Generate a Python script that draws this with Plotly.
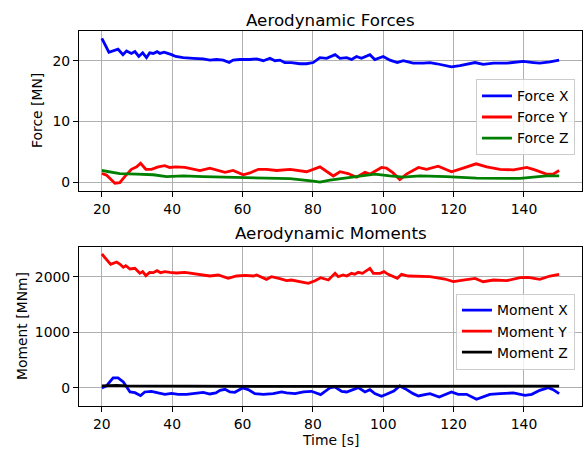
import plotly.graph_objects as go

# ---- Force data [MN] vs time [s] ----
t_fx = [20, 22, 24.6, 26, 27, 28.4, 29.4, 30.5, 31.6, 32.7, 33.6, 34.6, 35.7, 36.5, 37.7,
        38.9, 39.8, 41, 43.1, 46, 48.8, 50.7, 52.6, 54.5, 56.2, 57.3, 59.2, 62, 64, 65.9,
        67.8, 69.2, 70.6, 72, 73.9, 76.3, 78.2, 80.1, 82, 83.9, 86.3, 87.7, 89.6, 91, 92.4,
        93.8, 96.2, 97.6, 100, 101.9, 104, 105.7, 108.5, 111.4, 113.3, 115.2, 119.4, 121.8,
        126.1, 128.4, 131.3, 135.1, 139.8, 142.7, 144.5, 147.4, 150]
force_x = [23.7, 21.4, 21.9, 21.0, 21.6, 21.2, 21.5, 20.7, 21.3, 20.5, 21.3, 21.2, 21.5, 21.2, 21.4,
           21.2, 21.0, 20.7, 20.5, 20.4, 20.3, 20.1, 20.2, 20.1, 19.7, 20.1, 20.2, 20.2, 20.3, 20.0,
           20.4, 20.0, 20.1, 19.7, 19.7, 19.5, 19.5, 19.7, 20.5, 20.4, 21.0, 20.4, 20.5, 20.2, 20.7,
           20.4, 21.0, 20.2, 20.7, 20.1, 19.7, 20.0, 19.6, 19.6, 19.7, 19.5, 19.0, 19.2,
           19.7, 19.4, 19.6, 19.6, 19.9, 19.7, 19.6, 19.8, 20.1]

t_fy = [20, 21.3, 23.7, 25.1, 26.5, 28.4, 29.9, 31, 32.5, 34.1, 36, 37.9, 39.3, 41, 43.6,
        46, 47.9, 50.7, 53.1, 55, 57.3, 60.2, 62.1, 64.5, 66.8, 69.7, 73.5, 76.3, 78.2, 82,
        83.4, 85.8, 87.7, 90, 92.4, 94.8, 96.2, 99.5, 100.9, 102.8, 104.7, 106.6, 110, 112.3,
        115.6, 119.4, 122.7, 126.4, 129.4, 133.2, 137, 140.8, 143.1, 146.4, 148.3, 150]
force_y = [1.4, 1.15, -0.2, -0.1, 0.9, 2.1, 2.5, 3.1, 2.1, 2.1, 2.5, 2.7, 2.4, 2.5, 2.4,
           2.1, 1.9, 2.3, 1.9, 1.6, 1.9, 1.2, 1.5, 2.1, 2.1, 1.9, 2.1, 1.9, 1.7, 2.5,
           2.0, 1.0, 1.7, 1.4, 0.8, 1.6, 1.3, 2.4, 2.3, 1.5, 0.4, 1.3, 2.4, 2.1,
           2.6, 1.7, 2.3, 3.0, 2.5, 2.1, 2.0, 2.4, 2.0, 1.3, 1.3, 1.9]

t_fz = [20, 25.1, 29.9, 34.6, 38.4, 43.1, 48.8, 58.3, 67.8, 73.5, 80.1, 82, 84.8,
        86.7, 93.4, 97.6, 101.9, 105.7, 110.4, 118, 126.5, 138.9, 146.4, 150]
force_z = [1.9, 1.4, 1.3, 1.2, 0.9, 1.0, 0.9, 0.8, 0.6, 0.55, 0.15, 0.0, 0.3,
           0.45, 0.9, 1.3, 1.0, 0.8, 1.0, 0.9, 0.65, 0.6, 1.0, 1.0]

# ---- Moment data [MNm] vs time [s] ----
t_mx = [20, 21.3, 23.2, 24.6, 26.1, 27, 28, 29.4, 31, 32.2, 34.1, 36, 37.9, 39.8, 41.7,
        44.1, 46.9, 48.8, 50.7, 52.4, 53.6, 55, 56.4, 57.8, 60, 61.6, 63.5, 65.9, 68.7, 71.1,
        72.5, 74.9, 77.3, 79.6, 82.2, 83.4, 84.8, 86.3, 88.2, 89.6, 91.5, 92.9, 94.8, 96.2,
        97.6, 99.5, 100.9, 103, 104.7, 106.2, 108.5, 110, 111.8, 113.3, 115.9, 118, 119.4,
        121.3, 123.7, 126.5, 128.4, 130.3, 133.2, 137, 140.3, 142.2, 144.5, 146.9, 148.3, 150]
moment_x = [0, 36, 180, 180, 108, 18, -72, -84, -138, -72, -60, -90, -114, -96, -114,
            -114, -90, -78, -108, -90, -42, -24, -72, -78, 0, -30, -102, -114, -102, -72,
            -90, -102, -72, -60, -120, -72, 0, 18, -60, -72, -24, 6, -72, -30,
            -102, -150, -114, -54, 36, -12, -102, -144, -120, -102, -162, -114, -72,
            -114, -114, -204, -162, -114, -102, -90, -132, -114, -42, 6, -30, -102]

t_my = [20, 21.8, 22.5, 24.2, 25.1, 26.1, 26.8, 28, 29.4, 30.8, 31.6, 32.5, 33.6, 34.6, 35.7,
        36.7, 37.9, 39.3, 41.2, 43.6, 46, 48.8, 50.7, 53.1, 55.9, 58.3, 60.7, 63.1, 64, 66.8,
        68.2, 70.6, 72.5, 73.9, 76.3, 78.7, 80.6, 82.2, 84.4, 86.3, 87.2, 88.6, 89.6, 91,
        91.9, 92.9, 94.1, 96.2, 97.2, 99.1, 100.2, 101.4, 104, 105.2, 107.1, 109.5, 113.3,
        117.5, 119.9, 122.7, 126.1, 128.4, 131.3, 135.1, 138.9, 141.2, 144.5, 147.4, 150]
moment_y = [2408, 2270, 2222, 2264, 2228, 2168, 2198, 2138, 2150, 2060, 2090, 2018, 2078, 2072, 2108,
            2072, 2090, 2078, 2066, 2078, 2060, 2036, 2012, 2030, 1970, 2012, 2024, 2012, 2030, 1952,
            2000, 1964, 1928, 1940, 1904, 1880, 1928, 1982, 1940, 2060, 2000, 2030, 2012, 2060,
            2042, 2078, 2060, 2150, 2060, 2060, 2090, 2042, 1970, 2042, 2012, 2012, 2000,
            1958, 1910, 1940, 1970, 1910, 1940, 1928, 1982, 1988, 1952, 2012, 2042]

t_mz = [20, 22, 24.2, 27, 35, 50, 65, 80, 95, 110, 125, 140, 150]
moment_z = [36, 42, 48, 36, 32, 30, 30, 28, 30, 30, 32, 32, 34]

FONT = "DejaVu Sans"
LW = 2.8

fig = go.Figure()


def add_line(t, v, name, color, xa, ya, legend):
    fig.add_trace(go.Scatter(
        x=t, y=v, mode="lines", name=name,
        line=dict(color=color, width=LW),
        xaxis=xa, yaxis=ya, legend=legend,
    ))


add_line(t_fx, force_x, "Force X", "#0000ff", "x", "y", "legend")
add_line(t_fy, force_y, "Force Y", "#ff0000", "x", "y", "legend")
add_line(t_fz, force_z, "Force Z", "#008000", "x", "y", "legend")
add_line(t_mx, moment_x, "Moment X", "#0000ff", "x2", "y2", "legend2")
add_line(t_my, moment_y, "Moment Y", "#ff0000", "x2", "y2", "legend2")
add_line(t_mz, moment_z, "Moment Z", "#000000", "x2", "y2", "legend2")

axis_common = dict(
    showline=True, linecolor="black", linewidth=1.1, mirror=True,
    ticks="outside", ticklen=5, tickwidth=1.1, tickcolor="black",
    showgrid=True, gridcolor="#b0b0b0", gridwidth=1.1,
    zeroline=False, tickfont=dict(family=FONT, size=13.9, color="black"),
)

x_ticks = [20, 40, 60, 80, 100, 120, 140]

fig.update_layout(
    width=583, height=453,
    margin=dict(l=79, r=1, t=31, b=47),
    paper_bgcolor="white", plot_bgcolor="white",
    font=dict(family=FONT, size=13.9, color="black"),
    xaxis=dict(domain=[0, 1], anchor="y", range=[13.5, 156.5], tickvals=x_ticks, **axis_common),
    yaxis=dict(domain=[0.573, 1], anchor="x", range=[-1.5, 24.9], tickvals=[0, 10, 20], **axis_common),
    xaxis2=dict(domain=[0, 1], anchor="y2", range=[13.5, 156.5], tickvals=x_ticks, **axis_common),
    yaxis2=dict(domain=[0, 0.425], anchor="x2", range=[-324, 2540], tickvals=[0, 1000, 2000], **axis_common),
    legend=dict(x=0.986, y=0.871, xanchor="right", yanchor="top",
                bgcolor="rgba(255,255,255,0.8)", bordercolor="#cccccc", borderwidth=1,
                font=dict(family=FONT, size=13.9, color="black")),
    legend2=dict(x=0.986, y=0.300, xanchor="right", yanchor="top",
                 bgcolor="rgba(255,255,255,0.8)", bordercolor="#cccccc", borderwidth=1,
                 font=dict(family=FONT, size=13.9, color="black")),
    annotations=[
        dict(text="Aerodynamic Forces", x=0.5, y=20, xref="paper", yref="paper",
             showarrow=False, font=dict(family=FONT, size=16.7, color="black")),
        dict(text="Aerodynamic Moments", x=0.5, y=20, xref="paper", yref="paper",
             showarrow=False, font=dict(family=FONT, size=16.7, color="black")),
        dict(text="Force [MN]", x=0, y=0, xref="paper", yref="paper", textangle=-90,
             showarrow=False, font=dict(family=FONT, size=13.9, color="black")),
        dict(text="Moment [MNm]", x=0, y=0, xref="paper", yref="paper", textangle=-90,
             showarrow=False, font=dict(family=FONT, size=13.9, color="black")),
        dict(text="Time [s]", x=0.5, y=0, xref="paper", yref="paper",
             showarrow=False, font=dict(family=FONT, size=13.9, color="black")),
    ],
)

# Place titles and axis labels in paper coordinates of the plotting region
plot_w = 583 - 79 - 1
plot_h = 453 - 31 - 47


def px_to_paper_x(px):
    return (px - 79) / plot_w


def px_to_paper_y(py):
    return (453 - 47 - py) / plot_h


anns = fig.layout.annotations
anns[0].update(x=px_to_paper_x(330.5), y=px_to_paper_y(20), xanchor="center", yanchor="middle")
anns[1].update(x=px_to_paper_x(330.5), y=px_to_paper_y(233), xanchor="center", yanchor="middle")
anns[2].update(x=px_to_paper_x(37), y=px_to_paper_y(111), xanchor="center", yanchor="middle")
anns[3].update(x=px_to_paper_x(22), y=px_to_paper_y(326), xanchor="center", yanchor="middle")
anns[4].update(x=px_to_paper_x(330.5), y=px_to_paper_y(440), xanchor="center", yanchor="middle")

fig.write_html("out.html", config={"displayModeBar": False})
